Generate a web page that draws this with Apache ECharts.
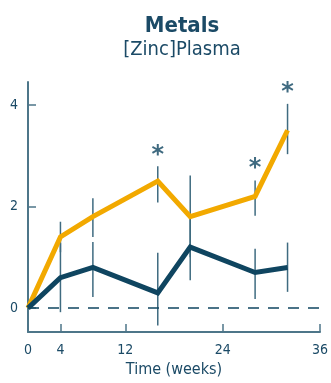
<!DOCTYPE html>
<html><head><meta charset="utf-8">
<script src="https://cdn.jsdelivr.net/npm/echarts@6/dist/echarts.min.js"></script>
<style>html,body{margin:0;padding:0;background:#fff}#c{width:331px;height:383px}</style>
</head><body><div id="c"></div>
<script>
const weeks = [0, 4, 8, 16, 20, 28, 32];
const orangeValues = [0, 1.4, 1.8, 2.5, 1.8, 2.2, 3.5];
const navyValues = [0, 0.6, 0.8, 0.3, 1.2, 0.7, 0.8];
const errWeeks = [4, 8, 16, 20, 28, 32];
const orangeLow = [1.1, 1.4, 2.08, 1.0, 1.82, 3.03];
const orangeHigh = [1.7, 2.16, 2.79, 2.61, 2.51, 4.02];
const navyLow = [-0.08, 0.22, -0.34, 0.55, 0.18, 0.32];
const navyHigh = [1.28, 1.3, 1.09, 1.85, 1.17, 1.29];
const starWeeks = [16, 28, 32];
const starValues = [3.12, 2.86, 4.35];
const xTicks = [0, 4, 12, 24, 36];
const yTicks = [0, 2, 4];

const FONT = "'Liberation Sans Narrow', 'DejaVu Sans Condensed', Roboto, sans-serif";
const NAVY = '#0f4560';
const AXIS = '#4d7689';

function errData(low, high) {
  return errWeeks.map((w, i) => [w, low[i], high[i]]);
}
function errSeries(low, high, color) {
  return {
    type: 'custom',
    data: errData(low, high),
    encode: {x: 0, y: [1, 2]},
    z: 3,
    renderItem: function (params, api) {
      const x = api.value(0);
      const p1 = api.coord([x, api.value(1)]);
      const p2 = api.coord([x, api.value(2)]);
      return {type: 'line', shape: {x1: p1[0], y1: p1[1], x2: p2[0], y2: p2[1]},
        style: {stroke: color, lineWidth: 1.5}};
    }
  };
}

const chart = echarts.init(document.getElementById('c'));
chart.setOption({
  animation: false,
  title: {
    text: 'Metals', subtext: '[Zinc]Plasma',
    left: 177, top: 10, textAlign: 'center', itemGap: 3,
    textStyle: {fontFamily: FONT, fontSize: 22, fontWeight: 'bold', color: '#1b4a66'},
    subtextStyle: {fontFamily: FONT, fontSize: 20, color: '#1b4a66'}
  },
  grid: {left: 28, right: 2, top: 82, bottom: 50, containLabel: false},
  xAxis: {
    type: 'value', min: 0, max: 36,
    name: 'Time (weeks)', nameLocation: 'middle', nameGap: 30,
    nameTextStyle: {fontFamily: FONT, fontSize: 16, color: '#1b4a66'},
    axisLine: {onZero: false, lineStyle: {color: AXIS, width: 2}},
    axisTick: {inside: true, length: 8, customValues: xTicks, lineStyle: {color: AXIS, width: 1.5}},
    axisLabel: {customValues: xTicks, fontFamily: FONT, fontSize: 14, color: '#1b4a66', margin: 11},
    splitLine: {show: false}
  },
  yAxis: {
    type: 'value', min: -0.47, max: 4.45,
    axisLine: {show: true, onZero: false, lineStyle: {color: AXIS, width: 2}},
    axisTick: {show: true, inside: true, length: 8, customValues: yTicks, lineStyle: {color: AXIS, width: 1.5}},
    axisLabel: {customValues: yTicks, fontFamily: FONT, fontSize: 14, color: '#1b4a66', margin: 10},
    splitLine: {show: false}
  },
  series: [
    {
      type: 'line', data: weeks.map((w, i) => [w, orangeValues[i]]),
      symbol: 'none', z: 4,
      lineStyle: {color: '#f2a900', width: 5, join: 'miter'},
      markLine: {
        silent: true, symbol: 'none', label: {show: false},
        lineStyle: {color: NAVY, type: [11, 9], width: 1.5},
        data: [{yAxis: 0}]
      }
    },
    {
      type: 'line', data: weeks.map((w, i) => [w, navyValues[i]]),
      symbol: 'none', z: 5,
      lineStyle: {color: NAVY, width: 5, join: 'miter'}
    },
    errSeries(orangeLow, orangeHigh, '#3f6b80'),
    errSeries(navyLow, navyHigh, '#3f6b80'),
    {
      type: 'scatter', symbolSize: 1, itemStyle: {color: 'rgba(0,0,0,0)'},
      data: starWeeks.map((w, i) => [w, starValues[i]]),
      label: {show: true, position: 'inside', formatter: '*', fontFamily: 'DejaVu Sans', fontSize: 24, fontWeight: 'bold', color: NAVY, offset: [0, 6]}
    }
  ]
});
</script>
</body></html>
